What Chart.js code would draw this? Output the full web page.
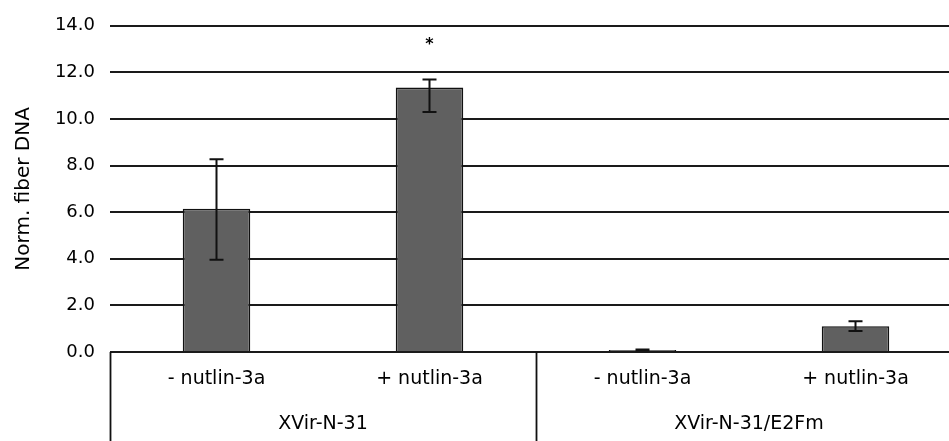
<!DOCTYPE html>
<html>
<head>
<meta charset="utf-8">
<script src="https://cdn.jsdelivr.net/npm/chart.js@4/dist/chart.umd.min.js"></script>
<style>
  html, body { margin: 0; padding: 0; background: #fff; overflow: hidden; }
  #wrap { width: 962px; height: 441px; }
</style>
</head>
<body>
<div id="wrap"><canvas id="c" width="962" height="441"></canvas></div>
<script>
// ---- data ----
const categories = ['- nutlin-3a', '+ nutlin-3a', '- nutlin-3a', '+ nutlin-3a'];
const groups = ['XVir-N-31', 'XVir-N-31/E2Fm'];
const groupSize = 2;
const values = [6.15, 11.35, 0.09, 1.11];
const errHigh = [8.27, 11.69, 0.11, 1.32];
const errLow = [3.96, 10.30, 0.07, 0.90];
const marks = ['', '*', '', ''];
const markValues = [null, 13.3, null, null];
const yMin = 0, yMax = 14, yStep = 2;
const yTitle = 'Norm. fiber DNA';

const FONT = "'DejaVu Sans', sans-serif";

const extrasPlugin = {
  id: 'extras',
  afterDatasetsDraw(chart) {
    const ctx = chart.ctx;
    const meta = chart.getDatasetMeta(0);
    const y = chart.scales.y;
    ctx.save();
    ctx.strokeStyle = '#111';
    ctx.lineWidth = 2;
    meta.data.forEach((bar, i) => {
      const x = bar.x;
      const yh = y.getPixelForValue(errHigh[i]);
      const yl = y.getPixelForValue(errLow[i]);
      const cap = 7;
      ctx.beginPath();
      ctx.moveTo(x, yh); ctx.lineTo(x, yl);
      ctx.moveTo(x - cap, yh); ctx.lineTo(x + cap, yh);
      ctx.moveTo(x - cap, yl); ctx.lineTo(x + cap, yl);
      ctx.stroke();
      if (marks[i]) {
        ctx.fillStyle = '#000';
        ctx.font = "bold 16px " + FONT;
        ctx.textAlign = 'center';
        ctx.textBaseline = 'middle';
        ctx.fillText(marks[i], x, y.getPixelForValue(markValues[i]) + 3);
      }
    });
    ctx.restore();
  },
  afterDraw(chart) {
    const ctx = chart.ctx;
    const x = chart.scales.x;
    const area = chart.chartArea;
    const bottom = chart.height;
    ctx.save();
    ctx.strokeStyle = '#111';
    ctx.lineWidth = 1.8;
    const half = (x.getPixelForValue(1) - x.getPixelForValue(0)) / 2;
    for (let g = 0; g < groups.length; g++) {
      const first = g * groupSize;
      const last = first + groupSize - 1;
      const left = Math.round(x.getPixelForValue(first) - half) + 0.5;
      ctx.beginPath();
      ctx.moveTo(left, area.bottom);
      ctx.lineTo(left, bottom);
      ctx.stroke();
      const cx = (x.getPixelForValue(first) + x.getPixelForValue(last)) / 2;
      ctx.fillStyle = '#000';
      ctx.font = "19px " + FONT;
      ctx.textAlign = 'center';
      ctx.textBaseline = 'middle';
      ctx.fillText(groups[g], cx, 424);
    }
    ctx.restore();
  }
};

new Chart(document.getElementById('c'), {
  type: 'bar',
  data: {
    labels: categories,
    datasets: [{
      data: values,
      backgroundColor: '#606060',
      borderColor: '#111',
      borderWidth: 1.6,
      barPercentage: 0.317,
      categoryPercentage: 1.0
    }]
  },
  options: {
    responsive: false,
    animation: false,
    devicePixelRatio: 1,
    layout: { padding: { top: 20, left: 0, right: 0, bottom: 0 } },
    plugins: { legend: { display: false }, tooltip: { enabled: false } },
    scales: {
      x: {
        grid: { display: false, drawTicks: false },
        border: { display: false },
        ticks: { color: '#000', font: { family: FONT, size: 19 }, padding: 16, maxRotation: 0 },
        afterFit(scale) { scale.height = 89; }
      },
      y: {
        min: yMin, max: yMax,
        grid: { color: '#1a1a1a', lineWidth: 2, drawTicks: false },
        border: { display: false },
        ticks: {
          stepSize: yStep, color: '#000', padding: 15,
          font: { family: FONT, size: 18 },
          callback: v => Number(v).toFixed(1)
        },
        title: {
          display: true, text: yTitle, color: '#000',
          font: { family: FONT, size: 20 }, padding: { top: 12, bottom: 0 }
        },
        afterFit(scale) { scale.width = 110; }
      }
    }
  },
  plugins: [extrasPlugin]
});
</script>
</body>
</html>
